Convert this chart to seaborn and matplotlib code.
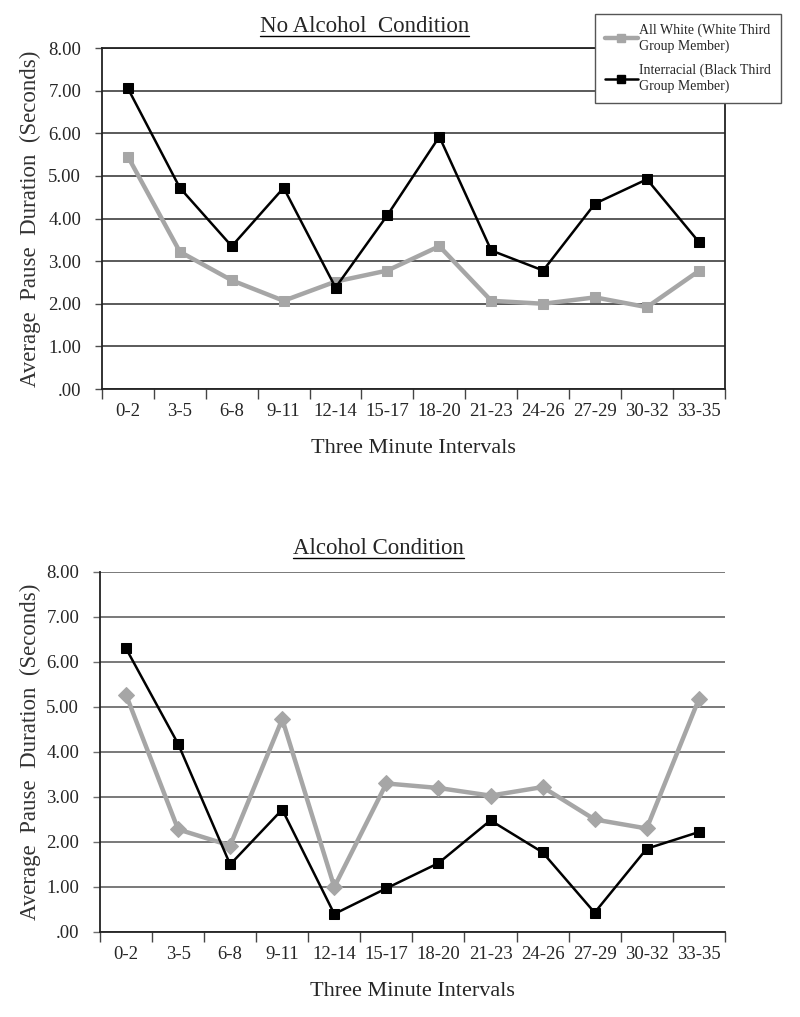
import numpy as np
import pandas as pd
import matplotlib.pyplot as plt
import seaborn as sns
from matplotlib.lines import Line2D

intervals = ["0-2", "3-5", "6-8", "9-11", "12-14", "15-17", "18-20",
             "21-23", "24-26", "27-29", "30-32", "33-35"]

no_alc_white = [5.45, 3.22, 2.55, 2.07, 2.52, 2.78, 3.35, 2.07, 2.00, 2.15, 1.92, 2.77]
no_alc_inter = [7.05, 4.72, 3.35, 4.72, 2.38, 4.08, 5.92, 3.25, 2.78, 4.35, 4.92, 3.45]

alc_white = [5.27, 2.28, 1.92, 4.73, 1.00, 3.30, 3.20, 3.03, 3.22, 2.50, 2.30, 5.17]
alc_inter = [6.30, 4.18, 1.50, 2.72, 0.40, 0.97, 1.53, 2.48, 1.77, 0.43, 1.85, 2.22]

lab_white = "All White (White Third\nGroup Member)"
lab_inter = "Interracial (Black Third\nGroup Member)"

GRAY = "#a6a6a6"
serif = "Liberation Serif"

sns.set_theme(style="white")
plt.rcParams["font.family"] = [serif, "DejaVu Serif"]


def long_df(white, inter):
    return pd.DataFrame({
        "interval": intervals * 2,
        "value": white + inter,
        "group": [lab_white] * 12 + [lab_inter] * 12,
    })


fig = plt.figure(figsize=(8, 10.17), dpi=100)
ax1 = fig.add_axes([0.1275, 0.6175, 0.7785, 0.3353])
ax2 = fig.add_axes([0.125, 0.0836, 0.781, 0.354])


def draw(ax, df, white_marker, grid_color, boxed):
    sub_w = df[df["group"] == lab_white]
    sub_i = df[df["group"] == lab_inter]
    sns.lineplot(data=sub_w, x="interval", y="value", ax=ax, color=GRAY,
                 lw=3.2, marker=white_marker, ms=7 if white_marker == "s" else 8,
                 mec=GRAY, mfc=GRAY, sort=False, zorder=3)
    sns.lineplot(data=sub_i, x="interval", y="value", ax=ax, color="black",
                 lw=1.8, marker="s", ms=7.5, mec="black", mfc="black",
                 sort=False, zorder=4)
    ax.set_xlim(-0.5, 11.5)
    ax.set_ylim(0, 8)
    ax.set_yticks(np.arange(0, 9, 1))
    ax.set_yticklabels([".00"] + ["%.2f" % v for v in range(1, 9)],
                       fontsize=13.5, family=serif)
    ax.yaxis.grid(True, color=grid_color, lw=1.3)
    ax.xaxis.grid(False)
    ax.set_axisbelow(True)
    ax.set_xticks(np.arange(-0.5, 12, 1))
    ax.set_xticklabels([])
    ax.set_xticks(np.arange(12), minor=True)
    ax.set_xticklabels(intervals, minor=True, fontsize=13.5, family=serif)
    ax.tick_params(axis="x", which="major", direction="out", length=7,
                   width=1, color="#444444", bottom=True)
    ax.tick_params(axis="x", which="minor", length=0, pad=10)
    ax.tick_params(axis="y", direction="out", length=5, width=1,
                   color=grid_color, left=True, pad=10)
    for s in ["left", "bottom"]:
        ax.spines[s].set_visible(True)
        ax.spines[s].set_color("#222222")
        ax.spines[s].set_linewidth(1.3)
    for s in ["top", "right"]:
        ax.spines[s].set_visible(boxed)
        ax.spines[s].set_color("#222222")
        ax.spines[s].set_linewidth(1.3)
    ax.set_xlabel("Three Minute Intervals", fontsize=16, family=serif,
                  labelpad=14)
    ax.set_ylabel("Average  Pause  Duration  (Seconds)",
                  fontsize=16.5, family=serif, color="#333333")
    if ax.get_legend() is not None:
        ax.get_legend().remove()


draw(ax1, long_df(no_alc_white, no_alc_inter), "s", "#4d4d4d", True)
draw(ax2, long_df(alc_white, alc_inter), "D", "#6e6e6e", False)

ax1.yaxis.set_label_coords(-0.098, 0.5)
ax2.yaxis.set_label_coords(-0.095, 0.5)

t1 = fig.text(0.456, 0.974, "No Alcohol  Condition", ha="center", va="center",
              fontsize=16.5, family=serif)
t2 = fig.text(0.473, 0.461, "Alcohol Condition", ha="center", va="center",
              fontsize=16.5, family=serif)

fig.canvas.draw()
inv = fig.transFigure.inverted()
for t in (t1, t2):
    bb = t.get_window_extent().transformed(inv)
    fig.add_artist(Line2D([bb.x0, bb.x1], [bb.y0 + 0.001, bb.y0 + 0.001],
                          transform=fig.transFigure, color="black", lw=1))

handles = [
    Line2D([], [], color=GRAY, lw=3.2, marker="s", ms=6, mfc=GRAY, mec=GRAY),
    Line2D([], [], color="black", lw=1.8, marker="s", ms=6, mfc="black", mec="black"),
]
fig.legend(handles, [lab_white, lab_inter], loc="upper right",
           bbox_to_anchor=(0.985, 0.993), frameon=True, fancybox=False,
           edgecolor="#555555", framealpha=1, handlelength=2.4,
           handletextpad=0.1, labelspacing=0.8, borderpad=0.7,
           prop={"family": serif, "size": 10})

fig.savefig("out.png", dpi=100, facecolor="white")
